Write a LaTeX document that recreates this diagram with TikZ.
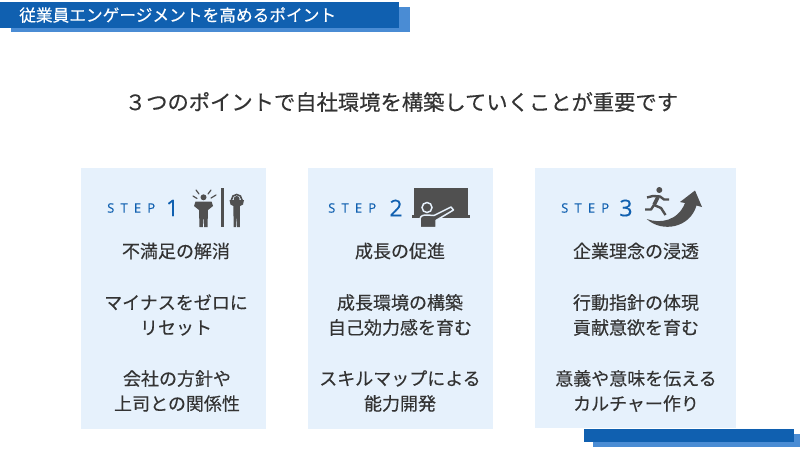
\documentclass[tikz,border=0pt]{standalone}
\usepackage{fontspec}
\setmainfont[FakeBold=0.35]{Noto Sans CJK JP}
\newfontfamily\stepfont[FakeBold=0.2]{Open Sans}
\definecolor{bluedark}{HTML}{1060B0}
\definecolor{bluelight}{HTML}{4A8CD4}
\definecolor{panelblue}{HTML}{E6F1FC}
\definecolor{icongray}{HTML}{505050}
\definecolor{textgray}{HTML}{333333}
\tikzset{
  panel/.style={fill=panelblue,draw=none,minimum height=261pt,inner sep=0pt,anchor=north west},
  headline/.style={text=textgray,font=\fontsize{18}{18}\selectfont,align=center,inner sep=0pt},
  stepword/.style={text=bluedark,font=\stepfont\fontsize{13}{13}\selectfont,inner sep=0pt},
  stepnum/.style={text=bluedark,font=\stepfont\fontsize{23}{23}\selectfont,inner sep=0pt},
  icon/.style={fill=icongray,draw=none},
  iconline/.style={draw=icongray,line width=1.2pt,line cap=round},
}
\begin{document}
\begin{tikzpicture}[x=1pt,y=-1pt]
\useasboundingbox (0,0) rectangle (800,450);
\fill[white] (0,0) rectangle (800,450);
% banners
\fill[bluelight] (11,7) rectangle (410,32);
\fill[bluedark] (0,2) rectangle (399,28);
\fill[bluelight] (593,434) rectangle (800,447);
\fill[bluedark] (584,429) rectangle (794,442);
\node[text=white,font=\fontsize{16.7}{16.7}\selectfont,inner sep=0pt,anchor=west] (banner) at (19,15) {従業員エンゲージメントを高めるポイント};
\node[text=textgray,font=\fontsize{21.3}{21.3}\selectfont,inner sep=0pt] (title) at (401.5,102) {３つのポイントで自社環境を構築していくことが重要です};
% panels
\node[panel,minimum width=185pt] (panela) at (81,168) {};
\node[panel,minimum width=185pt] (panelb) at (308,168) {};
\node[panel,minimum width=201pt,minimum height=260pt] (panelc) at (535,168) {};
% step 1
\node[stepword,anchor=west] (stepa) at (107,208) {S\hspace{6.2pt}T\hspace{6.2pt}E\hspace{6.2pt}P};
\node[stepnum] (numa) at (172.5,208) {1};
\node[headline] (heada) at (176,251) {不満足の解消};
\node[headline] (texta) at (176,315) {マイナスをゼロに\\[7pt]リセット};
\node[headline] (infoa) at (177,391) {会社の方針や\\[7pt]上司との関係性};
% person with hands on hips, wall, person holding head
\fill[icon] (203.5,197.3) circle (3);
\fill[icon] (195.5,201.5) -- (211.5,201.5) -- (213,206) -- (208,210) -- (207.5,227) -- (204.2,227) -- (203.5,215) -- (202.8,227) -- (199.5,227) -- (199,210) -- (194,206) -- cycle;
\draw[iconline] (193,196) -- (197,198.5);
\draw[iconline] (196,190) -- (199,194);
\draw[iconline] (211,190) -- (208,194);
\draw[iconline] (216,195) -- (211,198);
\draw[icongray,line width=2.6pt] (222.3,188) -- (222.3,227);
\fill[icon] (236.7,199) circle (3);
\draw[icongray,line width=1.6pt] (231,201) -- (233,196) -- (236.7,194.5) -- (240.4,196) -- (242.4,201);
\fill[icon] (229.5,200) -- (244,200) -- (243,204.5) -- (240,206) -- (239.8,227) -- (237.2,227) -- (236.7,213) -- (236.2,227) -- (233.6,227) -- (233.4,206) -- (230.5,204.5) -- cycle;
% step 2
\node[stepword,anchor=west] (stepb) at (328,208) {S\hspace{6.2pt}T\hspace{6.2pt}E\hspace{6.2pt}P};
\node[stepnum] (numb) at (396,208) {2};
\node[headline] (headb) at (400,251) {成長の促進};
\node[headline] (textb) at (400,315) {成長環境の構築\\[7pt]自己効力感を育む};
\node[headline] (infob) at (400,391) {スキルマップによる\\[7pt]能力開発};
% blackboard with teacher
\fill[icon] (413.5,188) rectangle (468,216);
\fill[icon] (412,215) rectangle (470,218);
\draw[icon,draw=panelblue,line width=1.5pt] (427,207.5) circle (5);
\draw[icon,draw=panelblue,line width=1.5pt,line join=round] (420,227.5) -- (420,219) .. controls (420.5,215.5) and (423,215) .. (427,215) -- (434,215.5) -- (451,207) -- (453.5,210) -- (436,220.5) -- (436,227.5) -- cycle;
% step 3
\node[stepword,anchor=west] (stepc) at (561,208) {S\hspace{6.2pt}T\hspace{6.2pt}E\hspace{6.2pt}P};
\node[stepnum] (numc) at (626,208) {3};
\node[headline] (headc) at (636,251) {企業理念の浸透};
\node[headline] (textc) at (636,315) {行動指針の体現\\[7pt]貢献意欲を育む};
\node[headline] (infoc) at (636,391) {意義や意味を伝える\\[7pt]カルチャー作り};
% runner and rising arrow
\fill[icon] (659.3,190) circle (3);
\draw[icongray,line width=2.4pt,line join=round] (647,197.5) -- (653,196) -- (660,196.5) -- (664,199.5) -- (669,199.5);
\draw[icongray,line width=3.6pt,line join=round] (658,197) -- (654,205);
\draw[icongray,line width=2.4pt,line join=round] (654,205) -- (651,209.5) -- (645,209.5);
\draw[icongray,line width=2.4pt,line join=round] (654,205) -- (661,208) -- (665.5,215);
\fill[icon] (646.7,219) .. controls (660,224) and (678,221) .. (685,203) -- (680,202) -- (695,190.5) -- (702,207) -- (696.5,205.5) .. controls (690,228) and (662,233) .. (646.7,219) -- cycle;
\end{tikzpicture}
\end{document}
